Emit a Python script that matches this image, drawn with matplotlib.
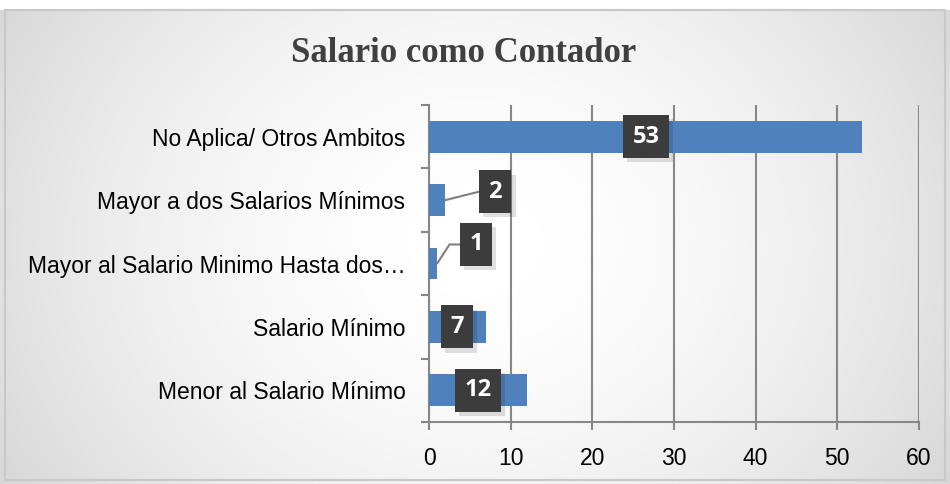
import numpy as np
import matplotlib
matplotlib.use('Agg')
import matplotlib.pyplot as plt
import matplotlib.patheffects as pe
from matplotlib.patches import Rectangle

## data
categorias = ['Menor al Salario Mínimo', 'Salario Mínimo',
              'Mayor al Salario Minimo Hasta dos…',
              'Mayor a dos Salarios Mínimos', 'No Aplica/ Otros Ambitos']
valores = [12, 7, 1, 2, 53]
xticks = [0, 10, 20, 30, 40, 50, 60]
titulo = 'Salario como Contador'

## figure
fig = plt.figure(figsize=(9.5, 4.84), dpi=100)

# fondo degradado
bg = fig.add_axes([0, 0, 1, 1], zorder=-10)
xx, yy = np.meshgrid(np.linspace(-1, 1, 400), np.linspace(-1, 1, 200))
r = np.sqrt(xx**2 + (yy * 0.6)**2)
grad = 1.0 - 0.12 * np.clip(r, 0, 1.3) ** 1.8
bg.imshow(grad, cmap='gray', vmin=0, vmax=1, aspect='auto',
          extent=[0, 1, 0, 1], interpolation='bicubic')
# marco blanco arriba
bg.add_patch(Rectangle((0, 1 - 10 / 484), 1, 10 / 484, facecolor='white', edgecolor='none'))
bg.add_patch(Rectangle((5 / 950, 4 / 484), 940 / 950, 1 - 14 / 484, facecolor='none',
                       edgecolor='#c8c8c8', lw=1.5))
bg.set_xlim(0, 1)
bg.set_ylim(0, 1)
bg.axis('off')

ax = fig.add_axes([429 / 950, 1 - 422 / 484, 490 / 950, 317 / 484])
ax.patch.set_alpha(0)
pos = np.arange(len(categorias))
ax.barh(pos, valores, height=0.5, color='#4f81bd', zorder=3)
ax.set_xlim(0, 60)
ax.set_ylim(-0.5, len(categorias) - 0.5)
ax.set_xticks(xticks)
ax.set_xticklabels([str(t) for t in xticks])
ax.set_yticks(pos)
ax.set_yticklabels(categorias)
ax.set_yticks(np.arange(-0.5, len(categorias)), minor=True)
ax.tick_params(axis='y', which='major', length=0, pad=17)
ax.tick_params(axis='y', which='minor', length=6, color='#878787', width=1.5)
ax.tick_params(axis='x', length=6, color='#878787', width=1.5, pad=12)
for lab in ax.get_xticklabels() + ax.get_yticklabels():
    lab.set_fontsize(16.5)
    lab.set_family('Liberation Sans')
    lab.set_color('black')
ax.grid(axis='x', color='#878787', lw=1.5, zorder=1)
for s in ['top', 'right']:
    ax.spines[s].set_visible(False)
ax.spines['left'].set_color('#878787')
ax.spines['bottom'].set_color('#878787')
ax.spines['left'].set_linewidth(1.5)
ax.spines['bottom'].set_linewidth(1.5)

# etiquetas de datos (con sombra)
box = dict(boxstyle='square,pad=0.4', facecolor='#3c3c3c', edgecolor='none')
offsets = {0: (6.0, 0.0), 1: (3.4, 0.0), 2: (5.75, 0.3), 3: (8.1, 0.13), 4: (26.6, 0.0)}
angulos = {2: 57, 3: 14}
sombra = [pe.SimplePatchShadow(offset=(3, -3), shadow_rgbFace='black', alpha=0.12), pe.Normal()]
for i, v in enumerate(valores):
    tx, ty = offsets[i]
    if i in angulos:
        t = ax.annotate(str(v), xy=(v, i), xytext=(tx, i + ty), ha='center', va='center',
                        fontsize=17, fontweight='bold', color='white', bbox=box, zorder=5,
                        family='Open Sans',
                        arrowprops=dict(arrowstyle='-', color='#7f7f7f', lw=1.5,
                                        connectionstyle='angle,angleA=0,angleB=%d,rad=0' % angulos[i],
                                        shrinkA=0, shrinkB=0))
    else:
        t = ax.text(tx, i + ty, str(v), ha='center', va='center', fontsize=17,
                    fontweight='bold', color='white', bbox=box, zorder=5, family='Open Sans')
    t.get_bbox_patch().set_path_effects(sombra)

fig.text(464 / 950, 1 - 53 / 484, titulo, ha='center', va='center',
         family='Liberation Serif', fontweight='bold', fontsize=25, color='#404040')

fig.savefig('out.png', dpi=100)
